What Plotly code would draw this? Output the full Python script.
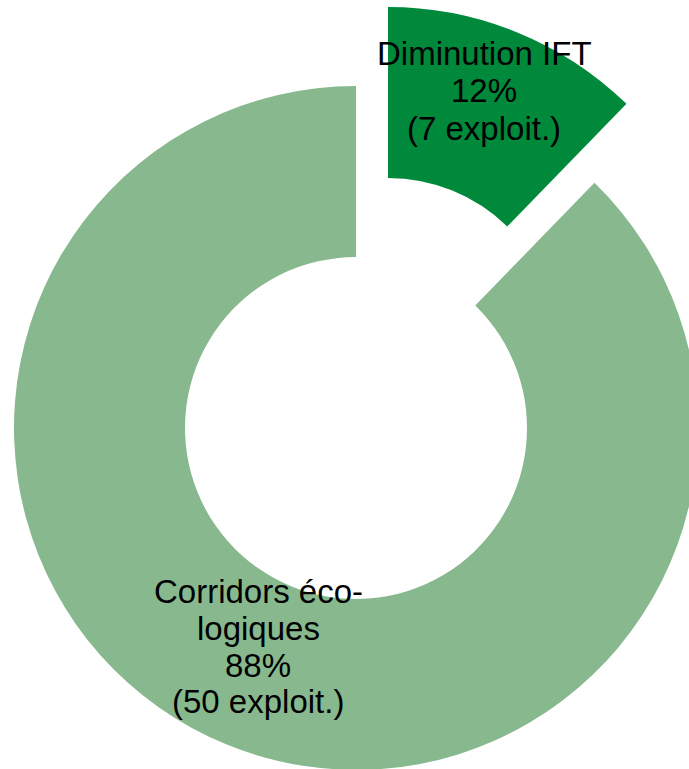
import plotly.graph_objects as go

labels = ['Diminution IFT', 'Corridors éco-<br>logiques']
label_lines = [['Diminution IFT'], ['Corridors éco-', 'logiques']]
counts = [7, 50]
colors = ['#00893b', '#88b98e']

# canvas a bit larger than the window so the ring is cut at right/bottom like the original
W, H = 740, 780
R = 342
main_c = (356, 428)      # centre of the ring (px)
pulled_c = (388, 349)    # centre of the exploded slice (px)


def dom(c):
    cx, cy = c
    return dict(x=[(cx - R) / W, (cx + R) / W], y=[1 - (cy + R) / H, 1 - (cy - R) / H])


fig = go.Figure()
# ring without the exploded slice
fig.add_trace(go.Pie(
    labels=labels, values=counts, sort=False, direction='clockwise', rotation=0,
    hole=0.5, textinfo='none', hoverinfo='label+value+percent', showlegend=False,
    marker=dict(colors=['rgba(0,0,0,0)', colors[1]], line=dict(width=0)),
    domain=dom(main_c),
))
# exploded slice
fig.add_trace(go.Pie(
    labels=labels, values=counts, sort=False, direction='clockwise', rotation=0,
    hole=0.5, textinfo='none', hoverinfo='label+value+percent', showlegend=False,
    marker=dict(colors=[colors[0], 'rgba(0,0,0,0)'], line=dict(width=0)),
    domain=dom(pulled_c),
))

total = sum(counts)
label_pos = [(484, [53.5, 90, 129]), (258, [591, 628.5, 665, 701.5])]
for lines, n, (lx, ys) in zip(label_lines, counts, label_pos):
    txt = lines + [f'{round(100 * n / total)}%', f'({n} exploit.)']
    for t, ly in zip(txt, ys):
        fig.add_annotation(x=lx / W, y=1 - ly / H, xref='paper', yref='paper',
                           text=t, showarrow=False, xanchor='center', yanchor='middle',
                           font=dict(family='Liberation Sans, Arial', size=33, color='black'))

fig.update_layout(width=W, height=H, margin=dict(l=0, r=0, t=0, b=0),
                  paper_bgcolor='white', plot_bgcolor='white')

fig.write_html("out.html", config={'displayModeBar': False},
               post_script="document.body.style.margin='0';document.body.style.overflow='hidden';")
